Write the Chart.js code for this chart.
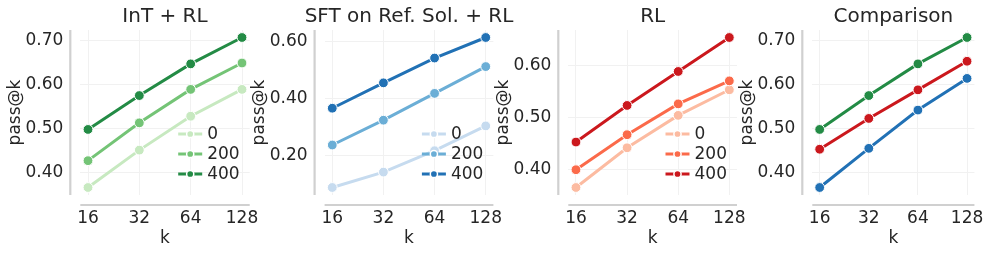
<!DOCTYPE html>
<html>
<head>
<meta charset="utf-8">
<script src="https://cdn.jsdelivr.net/npm/chart.js@4.4.1/dist/chart.umd.min.js"></script>
<style>
  html, body { margin: 0; padding: 0; background: #fff; }
  #wrap { position: relative; width: 997px; height: 254px; }
  #wrap canvas { position: absolute; left: 0; top: 0; }
</style>
</head>
<body>
<div id="wrap">
  <canvas id="c1" width="997" height="254"></canvas>
  <canvas id="c2" width="997" height="254"></canvas>
  <canvas id="c3" width="997" height="254"></canvas>
  <canvas id="c4" width="997" height="254"></canvas>
</div>
<script>
// data
const kValues = [16, 32, 64, 128];
const seriesLabels = ['0', '200', '400'];

const intRL0   = [0.366, 0.451, 0.528, 0.589];
const intRL200 = [0.427, 0.513, 0.589, 0.649];
const intRL400 = [0.498, 0.575, 0.647, 0.707];

const sftRL0   = [0.088, 0.142, 0.217, 0.304];
const sftRL200 = [0.237, 0.324, 0.418, 0.512];
const sftRL400 = [0.366, 0.455, 0.542, 0.614];

const rl0   = [0.366, 0.442, 0.504, 0.553];
const rl200 = [0.400, 0.467, 0.526, 0.570];
const rl400 = [0.453, 0.523, 0.588, 0.653];

const yTicksInt = [0.4, 0.5, 0.6, 0.7];
const yTicksSft = [0.2, 0.4, 0.6];
const yTicksRl  = [0.4, 0.5, 0.6];
const yTicksCmp = [0.4, 0.5, 0.6, 0.7];

const greens = ['#c7e9c0', '#74c476', '#238b45'];
const blues  = ['#c6dbef', '#6baed6', '#2171b5'];
const reds   = ['#fcbba1', '#fb6a4a', '#cb181d'];

const FONT = 'DejaVu Sans';
const TXT = '#262626';

// title, offset spines and legend
const decorPlugin = {
  id: 'decor',
  afterDraw(chart, args, opts) {
    const ctx = chart.ctx;
    const a = chart.chartArea;
    ctx.save();
    // spines
    ctx.strokeStyle = '#d0d0d0';
    ctx.lineWidth = 2.2;
    ctx.beginPath();
    ctx.moveTo(a.left - 10, a.top);
    ctx.lineTo(a.left - 10, a.bottom);
    ctx.moveTo(a.left, a.bottom + 10);
    ctx.lineTo(a.right, a.bottom + 10);
    ctx.stroke();
    // title
    ctx.fillStyle = TXT;
    ctx.font = '20px "' + FONT + '"';
    ctx.textAlign = 'center';
    ctx.textBaseline = 'middle';
    ctx.fillText(opts.title, (a.left + a.right) / 2, 17);
    // legend
    if (opts.legend) {
      const tx = a.right - 42.5;
      chart.data.datasets.forEach((ds, i) => {
        const y = 134 + i * 20;
        ctx.strokeStyle = ds.borderColor;
        ctx.lineWidth = 3;
        ctx.beginPath();
        ctx.moveTo(tx - 29, y);
        ctx.lineTo(tx - 5, y);
        ctx.stroke();
        ctx.beginPath();
        ctx.arc(tx - 17, y, 3.6, 0, Math.PI * 2);
        ctx.fillStyle = ds.borderColor;
        ctx.fill();
        ctx.strokeStyle = '#ffffff';
        ctx.lineWidth = 1.5;
        ctx.stroke();
        ctx.fillStyle = TXT;
        ctx.font = '17px "' + FONT + '"';
        ctx.textAlign = 'left';
        ctx.textBaseline = 'middle';
        ctx.fillText(ds.label, tx, y + 1);
      });
    }
    ctx.restore();
  }
};

function makePanel(id, title, plotLeft, plotRight, seriesList, colors, labels, yTicks, showLegend) {
  const all = seriesList.flat();
  const lo = Math.min(...all), hi = Math.max(...all);
  const pad = (hi - lo) * 0.05;

  const datasets = seriesList.map((vals, i) => ({
    label: labels[i],
    data: kValues.map((k, j) => ({ x: k, y: vals[j] })),
    borderColor: colors[i],
    backgroundColor: colors[i],
    pointBackgroundColor: colors[i],
    pointBorderColor: '#ffffff',
    pointBorderWidth: 1,
    pointRadius: 4.9,
    borderWidth: 3,
    order: seriesList.length - i,
    tension: 0
  }));

  return new Chart(document.getElementById(id).getContext('2d'), {
    type: 'line',
    data: { datasets: datasets },
    plugins: [decorPlugin],
    options: {
      responsive: false,
      animation: false,
      devicePixelRatio: 1,
      layout: { padding: { left: plotLeft - 80, right: 997 - plotRight, top: 30, bottom: 0 } },
      plugins: {
        legend: { display: false },
        tooltip: { enabled: false },
        decor: { title: title, legend: showLegend }
      },
      scales: {
        x: {
          type: 'logarithmic',
          min: 16 / Math.pow(2, 0.15),
          max: 128 * Math.pow(2, 0.15),
          afterBuildTicks: (s) => { s.ticks = kValues.map(v => ({ value: v })); },
          afterFit: (s) => { s.height = 59; },
          grid: { color: '#f1f1f1', lineWidth: 1, drawTicks: false },
          border: { display: false },
          ticks: {
            color: TXT,
            font: { family: FONT, size: 17 },
            padding: 13,
            maxRotation: 0,
            autoSkip: false,
            callback: (v) => String(v)
          },
          title: {
            display: true,
            text: 'k',
            color: TXT,
            font: { family: FONT, size: 17 },
            padding: { top: 0, bottom: 5 }
          }
        },
        y: {
          type: 'linear',
          min: lo - pad,
          max: hi + pad,
          afterBuildTicks: (s) => { s.ticks = yTicks.map(v => ({ value: v })); },
          afterFit: (s) => { s.width = 80; },
          grid: { color: '#f1f1f1', lineWidth: 1, drawTicks: false },
          border: { display: false },
          ticks: {
            color: TXT,
            font: { family: FONT, size: 17 },
            padding: 17,
            callback: (v) => Number(v).toFixed(2)
          },
          title: {
            display: true,
            text: 'pass@k',
            color: TXT,
            font: { family: FONT, size: 17 },
            padding: { top: 5, bottom: 0 }
          }
        }
      }
    }
  });
}

makePanel('c1', 'InT + RL', 80.3, 249.7, [intRL0, intRL200, intRL400], greens, seriesLabels, yTicksInt, true);
makePanel('c2', 'SFT on Ref. Sol. + RL', 324.6, 493.4, [sftRL0, sftRL200, sftRL400], blues, seriesLabels, yTicksSft, true);
makePanel('c3', 'RL', 568.3, 737, [rl0, rl200, rl400], reds, seriesLabels, yTicksRl, true);
makePanel('c4', 'Comparison', 812.3, 981, [intRL400, rl400, sftRL400], [greens[2], reds[2], blues[2]], ['InT + RL', 'RL', 'SFT on Ref. Sol. + RL'], yTicksCmp, false);
</script>
</body>
</html>
